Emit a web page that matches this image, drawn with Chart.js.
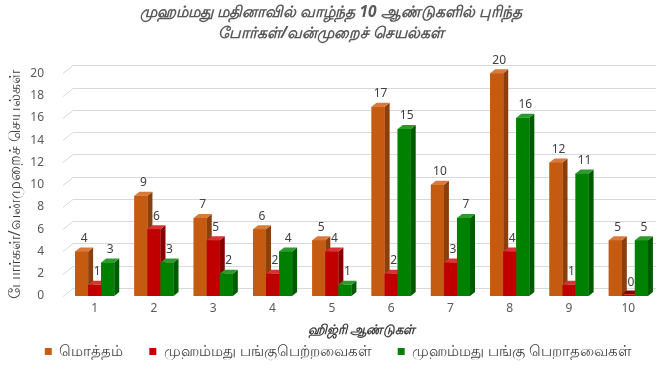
<!DOCTYPE html>
<html>
<head>
<meta charset="utf-8">
<script src="https://cdn.jsdelivr.net/npm/chart.js@4/dist/chart.umd.min.js"></script>
<style>
  html, body { margin: 0; padding: 0; background: #fff; }
  #wrap { width: 665px; height: 369px; }
</style>
</head>
<body>
<div id="wrap"><canvas id="chart"></canvas></div>
<script>
// Data
const years = ['1', '2', '3', '4', '5', '6', '7', '8', '9', '10'];
const total = [4, 9, 7, 6, 5, 17, 10, 20, 12, 5];
const participated = [1, 6, 5, 2, 4, 2, 3, 4, 1, 0];
const notParticipated = [3, 3, 2, 4, 1, 15, 7, 16, 11, 5];
const yTicks = [0, 2, 4, 6, 8, 10, 12, 14, 16, 18, 20];

const seriesNames = ['மொத்தம்', 'முஹம்மது பங்குபெற்றவைகள்', 'முஹம்மது பங்கு பெறாதவைகள்'];
const fronts = ['#C55A11', '#C00000', '#008000'];
const sides = ['#8A3F0C', '#860000', '#005A00'];
const tops = ['#D9793A', '#D93333', '#2E9A2E'];

const fontFamily = '"Noto Sans", "DejaVu Sans", sans-serif';
const DX = 5, DY = -4;

// back wall grid lines with a slanted floor edge
const wallGrid = {
    id: 'wallGrid',
    beforeDatasetsDraw(chart) {
        const ctx = chart.ctx;
        const area = chart.chartArea;
        const y = chart.scales.y;
        ctx.save();
        ctx.strokeStyle = '#D9D9D9';
        ctx.lineWidth = 1;
        yTicks.forEach(v => {
            const py = Math.round(y.getPixelForValue(v)) + 0.5;
            ctx.beginPath();
            ctx.moveTo(area.left - 2, py);
            ctx.lineTo(area.left + 8, py - 8);
            ctx.lineTo(area.right - 2, py - 8);
            ctx.stroke();
        });
        ctx.restore();
    }
};

// fake 3D faces + value labels
const bars3d = {
    id: 'bars3d',
    afterDatasetsDraw(chart) {
        const ctx = chart.ctx;
        const n = chart.data.labels.length;
        for (let j = 0; j < n; j++) {
            chart.data.datasets.forEach((ds, i) => {
                const bar = chart.getDatasetMeta(i).data[j];
                const left = bar.x - bar.width / 2;
                const right = bar.x + bar.width / 2;
                const base = bar.base;
                const top = Math.min(bar.y, base - 1.5);
                ctx.save();
                ctx.fillStyle = sides[i];
                ctx.beginPath();
                ctx.moveTo(right, top);
                ctx.lineTo(right + DX, top + DY);
                ctx.lineTo(right + DX, base + DY);
                ctx.lineTo(right, base);
                ctx.closePath();
                ctx.fill();
                ctx.fillStyle = ds.data[j] === 0 ? sides[i] : tops[i];
                ctx.beginPath();
                ctx.moveTo(left, top);
                ctx.lineTo(left + DX, top + DY);
                ctx.lineTo(right + DX, top + DY);
                ctx.lineTo(right, top);
                ctx.closePath();
                ctx.fill();
                ctx.fillStyle = fronts[i];
                ctx.fillRect(left, top, right - left, base - top);
                ctx.restore();
            });
        }
        ctx.save();
        ctx.font = '12px ' + fontFamily;
        ctx.fillStyle = '#404040';
        ctx.textAlign = 'center';
        ctx.textBaseline = 'bottom';
        chart.data.datasets.forEach((ds, i) => {
            chart.getDatasetMeta(i).data.forEach((bar, j) => {
                ctx.fillText(String(ds.data[j]), bar.x + DX / 2, bar.y + DY - 3);
            });
        });
        ctx.restore();
    }
};

new Chart(document.getElementById('chart'), {
    type: 'bar',
    data: {
        labels: years,
        datasets: [
            { label: seriesNames[0], data: total, backgroundColor: fronts[0] },
            { label: seriesNames[1], data: participated, backgroundColor: fronts[1] },
            { label: seriesNames[2], data: notParticipated, backgroundColor: fronts[2] }
        ]
    },
    options: {
        responsive: true,
        maintainAspectRatio: false,
        animation: false,
        devicePixelRatio: 1,
        layout: { padding: { left: 4, right: 7, top: 0, bottom: 0 } },
        datasets: { bar: { categoryPercentage: 0.66, barPercentage: 1.0 } },
        plugins: {
            title: {
                display: true,
                text: ['முஹம்மது மதினாவில் வாழ்ந்த 10 ஆண்டுகளில் புரிந்த', 'போர்கள்/வன்முறைச் செயல்கள்'],
                color: '#595959',
                font: { family: fontFamily, size: 15.5, style: 'italic', weight: 'bold', lineHeight: 1.3 },
                padding: { top: 3, bottom: 30 }
            },
            legend: {
                position: 'bottom',
                align: 'end',
                labels: {
                    color: '#404040',
                    font: { family: fontFamily, size: 15 },
                    boxWidth: 7, boxHeight: 7,
                    padding: 26
                }
            },
            tooltip: { enabled: false }
        },
        scales: {
            x: {
                grid: { display: false, drawTicks: false },
                border: { display: false },
                ticks: { color: '#595959', padding: 5, font: { family: fontFamily, size: 12 } },
                title: {
                    display: true,
                    text: 'ஹிஜ்ரி ஆண்டுகள்',
                    color: '#404040',
                    font: { family: fontFamily, size: 13, style: 'italic', weight: 'bold' },
                    padding: { top: 2, bottom: -20 }
                }
            },
            y: {
                min: 0, max: 20,
                afterBuildTicks(axis) { axis.ticks = yTicks.map(v => ({ value: v })); },
                afterFit(axis) { axis.width = 61; },
                grid: { display: false, drawTicks: false },
                border: { display: false },
                ticks: { autoSkip: false, color: '#595959', padding: 21, font: { family: fontFamily, size: 12 } },
                title: {
                    display: true,
                    text: 'போர்கள்/வன்முறைச் செயல்கள்',
                    color: '#404040',
                    font: { family: fontFamily, size: 16 },
                    padding: { top: 2, bottom: 2 }
                }
            }
        }
    },
    plugins: [wallGrid, bars3d]
});
</script>
</body>
</html>
